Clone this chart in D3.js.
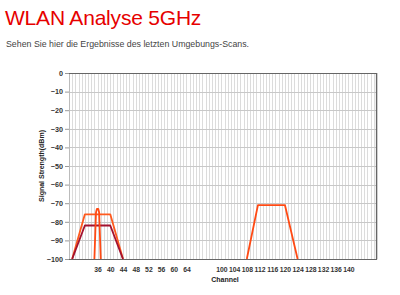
<!DOCTYPE html>
<html>
<head>
<meta charset="utf-8">
<script src="https://cdn.jsdelivr.net/npm/d3@7"></script>
<style>
  body { margin: 0; background: #fff; font-family: "Liberation Sans", Arial, sans-serif; }
  h1 { margin: 0; position: absolute; left: 5px; top: 6px; font-size: 21px; font-weight: normal; color: #e60000; letter-spacing: -0.2px; }
  p { margin: 0; position: absolute; left: 6px; top: 39px; font-size: 8.8px; color: #444; }
  #chart { position: absolute; left: 0; top: 0; }
</style>
</head>
<body>
<h1>WLAN Analyse 5GHz</h1>
<p>Sehen Sie hier die Ergebnisse des letzten Umgebungs-Scans.</p>
<div id="chart"></div>
<script>
// Channel grid (one gridline per channel), with the gap between 69 and 95
const channels = d3.range(27, 70).concat(d3.range(95, 150));
const xTickLabels = [36, 40, 44, 48, 52, 56, 60, 64, 100, 104, 108, 112, 116, 120, 124, 128, 132, 136, 140];
const yTicks = [0, -10, -20, -30, -40, -50, -60, -70, -80, -90, -100];

// Scanned networks: [channel, dBm] outline points
const netA = [[28, -100], [32, -82], [40, -82], [44, -100]];
const netB = [[28, -100], [32, -76], [40, -76], [44, -100]];
const netC = [[35, -100], [35.5, -75], [35.8, -73], [36.2, -73], [36.5, -75], [37, -100]];
const netD = [[108, -100], [111.5, -71], [120, -71], [124, -100]];
const networks = [
  { points: netB, color: "#ff5a1e" },
  { points: netA, color: "#a3112e" },
  { points: netC, color: "#ff4a14" },
  { points: netD, color: "#ff4a14" }
];

const width = 400, height = 295;
const margin = { top: 73, right: 23, bottom: 36, left: 69 };
const x0 = margin.left, x1 = width - margin.right;
const y0 = margin.top, y1 = height - margin.bottom;

const svg = d3.select("#chart").append("svg")
  .attr("width", width)
  .attr("height", height);

// point scale for gridlines and tick positions
const xPoint = d3.scalePoint()
  .domain(channels)
  .range([x0, x1]);

// piecewise linear scale for fractional channels in the traces
const x = d3.scaleLinear()
  .domain([27, 69, 95, 149])
  .range([xPoint(27), xPoint(69), xPoint(95), xPoint(149)]);

const y = d3.scaleLinear()
  .domain([-100, 0])
  .range([y1, y0]);

// vertical gridlines
svg.append("g")
  .selectAll("line")
  .data(channels)
  .join("line")
    .attr("x1", d => Math.round(xPoint(d)) + 0.5)
    .attr("x2", d => Math.round(xPoint(d)) + 0.5)
    .attr("y1", y0)
    .attr("y2", y1)
    .attr("stroke", "#dcdcdc")
    .attr("stroke-width", 1);

// horizontal gridlines
svg.append("g")
  .selectAll("line")
  .data(yTicks)
  .join("line")
    .attr("x1", x0)
    .attr("x2", x1)
    .attr("y1", d => Math.round(y(d)) + 0.5)
    .attr("y2", d => Math.round(y(d)) + 0.5)
    .attr("stroke", "#c8c8c8");

// y axis
const yAxis = svg.append("g")
  .attr("transform", `translate(${x0},0)`)
  .call(d3.axisLeft(y).tickValues(yTicks).tickSize(4).tickPadding(2));
yAxis.select(".domain").attr("stroke", "#bbb");
yAxis.selectAll(".tick line").attr("stroke", "#999");
yAxis.selectAll("text")
  .style("font-size", "7.2px")
  .style("font-weight", "bold")
  .attr("fill", "#333");

// x axis
const xAxis = svg.append("g")
  .attr("transform", `translate(0,${y1})`)
  .call(d3.axisBottom(xPoint).tickValues(xTickLabels).tickSize(0).tickPadding(8));
xAxis.select(".domain").remove();
xAxis.selectAll("text")
  .style("font-size", "6.8px")
  .style("font-weight", "bold")
  .attr("fill", "#333");

// frame
svg.append("path")
  .attr("d", `M${x0},${y0 + 0.5}H${x1 - 0.5}V${y1 + 0.5}H${x0}`)
  .attr("fill", "none")
  .attr("stroke", "#666")
  .attr("stroke-width", 1.2);

// traces
const line = d3.line()
  .x(d => x(d[0]))
  .y(d => y(d[1]));

svg.append("g")
  .selectAll("path")
  .data(networks)
  .join("path")
    .attr("d", d => line(d.points))
    .attr("fill", "none")
    .attr("stroke", d => d.color)
    .attr("stroke-width", 1.8)
    .attr("stroke-linejoin", "round");

// axis titles
svg.append("text")
  .attr("transform", `translate(44,${(y0 + y1) / 2}) rotate(-90)`)
  .attr("text-anchor", "middle")
  .style("font-size", "7px")
  .style("font-weight", "bold")
  .attr("fill", "#222")
  .text("Signal Strength(dBm)");

svg.append("text")
  .attr("x", 225)
  .attr("y", 282)
  .attr("text-anchor", "middle")
  .style("font-size", "7px")
  .style("font-weight", "bold")
  .attr("fill", "#222")
  .text("Channel");
</script>
</body>
</html>
